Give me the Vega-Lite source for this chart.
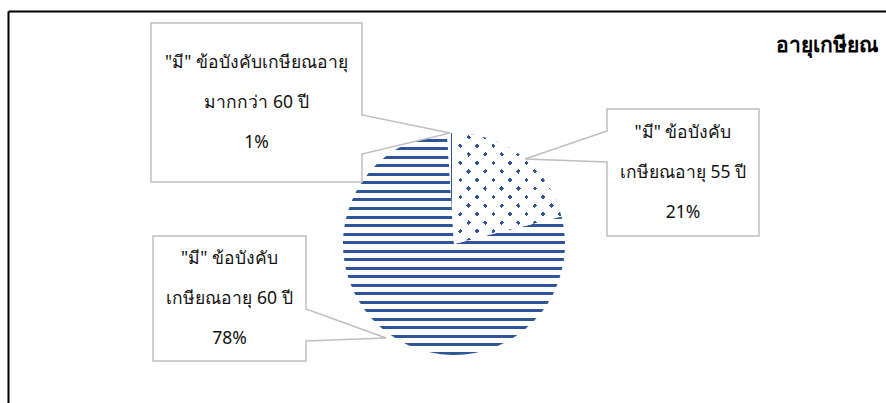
{
  "$schema": "https://vega.github.io/schema/vega-lite/v6.json",
  "width": 878,
  "height": 392,
  "autosize": {"type": "none"},
  "padding": {"left": 8, "top": 11, "right": 0, "bottom": 0},
  "background": "white",
  "config": {"view": {"stroke": null}},
  "data": {
    "values": [
      {"slice": "55", "value": 21, "seq": 1, "label": ["\"มี\" ข้อบังคับ", "เกษียณอายุ 55 ปี", "21%"], "ax": 683, "ay": 172.5},
      {"slice": "60", "value": 78, "seq": 2, "label": ["\"มี\" ข้อบังคับ", "เกษียณอายุ 60 ปี", "78%"], "ax": 229.5, "ay": 298.5},
      {"slice": "60+", "value": 1, "seq": 3, "label": ["\"มี\" ข้อบังคับเกษียณอายุ", "มากกว่า 60 ปี", "1%"], "ax": 256.5, "ay": 102.5}
    ]
  },
  "transform": [
    {"stack": "value", "groupby": [], "sort": [{"field": "seq", "order": "ascending"}], "as": ["v0", "v1"]}
  ],
  "layer": [
    {
      "transform": [{"filter": "datum.seq === 2"}],
      "mark": {
        "type": "arc", "outerRadius": 111, "xOffset": 7, "yOffset": 37, "strokeWidth": 0,
        "fill": {"gradient": "linear", "x1": 0, "y1": 0, "x2": 0, "y2": 1, "stops": [
          {"offset": 0, "color": "white"}, {"offset": 0.025, "color": "white"}, {"offset": 0.025, "color": "#2e5597"}, {"offset": 0.0385, "color": "#2e5597"},
          {"offset": 0.0385, "color": "white"}, {"offset": 0.0635, "color": "white"}, {"offset": 0.0635, "color": "#2e5597"}, {"offset": 0.0769, "color": "#2e5597"},
          {"offset": 0.0769, "color": "white"}, {"offset": 0.1019, "color": "white"}, {"offset": 0.1019, "color": "#2e5597"}, {"offset": 0.1154, "color": "#2e5597"},
          {"offset": 0.1154, "color": "white"}, {"offset": 0.1404, "color": "white"}, {"offset": 0.1404, "color": "#2e5597"}, {"offset": 0.1538, "color": "#2e5597"},
          {"offset": 0.1538, "color": "white"}, {"offset": 0.1788, "color": "white"}, {"offset": 0.1788, "color": "#2e5597"}, {"offset": 0.1923, "color": "#2e5597"},
          {"offset": 0.1923, "color": "white"}, {"offset": 0.2173, "color": "white"}, {"offset": 0.2173, "color": "#2e5597"}, {"offset": 0.2308, "color": "#2e5597"},
          {"offset": 0.2308, "color": "white"}, {"offset": 0.2558, "color": "white"}, {"offset": 0.2558, "color": "#2e5597"}, {"offset": 0.2692, "color": "#2e5597"},
          {"offset": 0.2692, "color": "white"}, {"offset": 0.2942, "color": "white"}, {"offset": 0.2942, "color": "#2e5597"}, {"offset": 0.3077, "color": "#2e5597"},
          {"offset": 0.3077, "color": "white"}, {"offset": 0.3327, "color": "white"}, {"offset": 0.3327, "color": "#2e5597"}, {"offset": 0.3462, "color": "#2e5597"},
          {"offset": 0.3462, "color": "white"}, {"offset": 0.3712, "color": "white"}, {"offset": 0.3712, "color": "#2e5597"}, {"offset": 0.3846, "color": "#2e5597"},
          {"offset": 0.3846, "color": "white"}, {"offset": 0.4096, "color": "white"}, {"offset": 0.4096, "color": "#2e5597"}, {"offset": 0.4231, "color": "#2e5597"},
          {"offset": 0.4231, "color": "white"}, {"offset": 0.4481, "color": "white"}, {"offset": 0.4481, "color": "#2e5597"}, {"offset": 0.4615, "color": "#2e5597"},
          {"offset": 0.4615, "color": "white"}, {"offset": 0.4865, "color": "white"}, {"offset": 0.4865, "color": "#2e5597"}, {"offset": 0.5, "color": "#2e5597"},
          {"offset": 0.5, "color": "white"}, {"offset": 0.525, "color": "white"}, {"offset": 0.525, "color": "#2e5597"}, {"offset": 0.5385, "color": "#2e5597"},
          {"offset": 0.5385, "color": "white"}, {"offset": 0.5635, "color": "white"}, {"offset": 0.5635, "color": "#2e5597"}, {"offset": 0.5769, "color": "#2e5597"},
          {"offset": 0.5769, "color": "white"}, {"offset": 0.6019, "color": "white"}, {"offset": 0.6019, "color": "#2e5597"}, {"offset": 0.6154, "color": "#2e5597"},
          {"offset": 0.6154, "color": "white"}, {"offset": 0.6404, "color": "white"}, {"offset": 0.6404, "color": "#2e5597"}, {"offset": 0.6538, "color": "#2e5597"},
          {"offset": 0.6538, "color": "white"}, {"offset": 0.6788, "color": "white"}, {"offset": 0.6788, "color": "#2e5597"}, {"offset": 0.6923, "color": "#2e5597"},
          {"offset": 0.6923, "color": "white"}, {"offset": 0.7173, "color": "white"}, {"offset": 0.7173, "color": "#2e5597"}, {"offset": 0.7308, "color": "#2e5597"},
          {"offset": 0.7308, "color": "white"}, {"offset": 0.7558, "color": "white"}, {"offset": 0.7558, "color": "#2e5597"}, {"offset": 0.7692, "color": "#2e5597"},
          {"offset": 0.7692, "color": "white"}, {"offset": 0.7942, "color": "white"}, {"offset": 0.7942, "color": "#2e5597"}, {"offset": 0.8077, "color": "#2e5597"},
          {"offset": 0.8077, "color": "white"}, {"offset": 0.8327, "color": "white"}, {"offset": 0.8327, "color": "#2e5597"}, {"offset": 0.8462, "color": "#2e5597"},
          {"offset": 0.8462, "color": "white"}, {"offset": 0.8712, "color": "white"}, {"offset": 0.8712, "color": "#2e5597"}, {"offset": 0.8846, "color": "#2e5597"},
          {"offset": 0.8846, "color": "white"}, {"offset": 0.9096, "color": "white"}, {"offset": 0.9096, "color": "#2e5597"}, {"offset": 0.9231, "color": "#2e5597"},
          {"offset": 0.9231, "color": "white"}, {"offset": 0.9481, "color": "white"}, {"offset": 0.9481, "color": "#2e5597"}, {"offset": 0.9615, "color": "#2e5597"},
          {"offset": 0.9615, "color": "white"}, {"offset": 0.9865, "color": "white"}, {"offset": 0.9865, "color": "#2e5597"}, {"offset": 1, "color": "#2e5597"}
        ]}
      },
      "encoding": {
        "theta": {"field": "v0", "type": "quantitative", "scale": {"domain": [0, 100]}},
        "theta2": {"field": "v1"}
      }
    },
    {
      "transform": [{"filter": "datum.seq === 1"}],
      "mark": {
        "type": "arc", "outerRadius": 111, "xOffset": 7, "yOffset": 37, "strokeWidth": 0,
        "fill": {"gradient": "linear", "x1": 0, "y1": 0, "x2": 1, "y2": 1, "stops": [
          {"offset": 0, "color": "#2e5597"}, {"offset": 0.021, "color": "#2e5597"}, {"offset": 0.021, "color": "white"}, {"offset": 0.0769, "color": "white"},
          {"offset": 0.0769, "color": "#2e5597"}, {"offset": 0.0979, "color": "#2e5597"}, {"offset": 0.0979, "color": "white"}, {"offset": 0.1538, "color": "white"},
          {"offset": 0.1538, "color": "#2e5597"}, {"offset": 0.1748, "color": "#2e5597"}, {"offset": 0.1748, "color": "white"}, {"offset": 0.2308, "color": "white"},
          {"offset": 0.2308, "color": "#2e5597"}, {"offset": 0.2518, "color": "#2e5597"}, {"offset": 0.2518, "color": "white"}, {"offset": 0.3077, "color": "white"},
          {"offset": 0.3077, "color": "#2e5597"}, {"offset": 0.3287, "color": "#2e5597"}, {"offset": 0.3287, "color": "white"}, {"offset": 0.3846, "color": "white"},
          {"offset": 0.3846, "color": "#2e5597"}, {"offset": 0.4056, "color": "#2e5597"}, {"offset": 0.4056, "color": "white"}, {"offset": 0.4615, "color": "white"},
          {"offset": 0.4615, "color": "#2e5597"}, {"offset": 0.4825, "color": "#2e5597"}, {"offset": 0.4825, "color": "white"}, {"offset": 0.5385, "color": "white"},
          {"offset": 0.5385, "color": "#2e5597"}, {"offset": 0.5595, "color": "#2e5597"}, {"offset": 0.5595, "color": "white"}, {"offset": 0.6154, "color": "white"},
          {"offset": 0.6154, "color": "#2e5597"}, {"offset": 0.6364, "color": "#2e5597"}, {"offset": 0.6364, "color": "white"}, {"offset": 0.6923, "color": "white"},
          {"offset": 0.6923, "color": "#2e5597"}, {"offset": 0.7133, "color": "#2e5597"}, {"offset": 0.7133, "color": "white"}, {"offset": 0.7692, "color": "white"},
          {"offset": 0.7692, "color": "#2e5597"}, {"offset": 0.7902, "color": "#2e5597"}, {"offset": 0.7902, "color": "white"}, {"offset": 0.8462, "color": "white"},
          {"offset": 0.8462, "color": "#2e5597"}, {"offset": 0.8672, "color": "#2e5597"}, {"offset": 0.8672, "color": "white"}, {"offset": 0.9231, "color": "white"},
          {"offset": 0.9231, "color": "#2e5597"}, {"offset": 0.9441, "color": "#2e5597"}, {"offset": 0.9441, "color": "white"}, {"offset": 1, "color": "white"}
        ]}
      },
      "encoding": {
        "theta": {"field": "v0", "type": "quantitative", "scale": {"domain": [0, 100]}},
        "theta2": {"field": "v1"}
      }
    },
    {
      "transform": [{"filter": "datum.seq === 1"}],
      "mark": {
        "type": "arc", "outerRadius": 111, "xOffset": 7, "yOffset": 37, "strokeWidth": 0,
        "fill": {"gradient": "linear", "x1": 0, "y1": 1, "x2": 1, "y2": 0, "stops": [
          {"offset": 0, "color": "rgba(255,255,255,0)"}, {"offset": 0.021, "color": "rgba(255,255,255,0)"}, {"offset": 0.021, "color": "white"}, {"offset": 0.0769, "color": "white"},
          {"offset": 0.0769, "color": "rgba(255,255,255,0)"}, {"offset": 0.0979, "color": "rgba(255,255,255,0)"}, {"offset": 0.0979, "color": "white"}, {"offset": 0.1538, "color": "white"},
          {"offset": 0.1538, "color": "rgba(255,255,255,0)"}, {"offset": 0.1748, "color": "rgba(255,255,255,0)"}, {"offset": 0.1748, "color": "white"}, {"offset": 0.2308, "color": "white"},
          {"offset": 0.2308, "color": "rgba(255,255,255,0)"}, {"offset": 0.2518, "color": "rgba(255,255,255,0)"}, {"offset": 0.2518, "color": "white"}, {"offset": 0.3077, "color": "white"},
          {"offset": 0.3077, "color": "rgba(255,255,255,0)"}, {"offset": 0.3287, "color": "rgba(255,255,255,0)"}, {"offset": 0.3287, "color": "white"}, {"offset": 0.3846, "color": "white"},
          {"offset": 0.3846, "color": "rgba(255,255,255,0)"}, {"offset": 0.4056, "color": "rgba(255,255,255,0)"}, {"offset": 0.4056, "color": "white"}, {"offset": 0.4615, "color": "white"},
          {"offset": 0.4615, "color": "rgba(255,255,255,0)"}, {"offset": 0.4825, "color": "rgba(255,255,255,0)"}, {"offset": 0.4825, "color": "white"}, {"offset": 0.5385, "color": "white"},
          {"offset": 0.5385, "color": "rgba(255,255,255,0)"}, {"offset": 0.5595, "color": "rgba(255,255,255,0)"}, {"offset": 0.5595, "color": "white"}, {"offset": 0.6154, "color": "white"},
          {"offset": 0.6154, "color": "rgba(255,255,255,0)"}, {"offset": 0.6364, "color": "rgba(255,255,255,0)"}, {"offset": 0.6364, "color": "white"}, {"offset": 0.6923, "color": "white"},
          {"offset": 0.6923, "color": "rgba(255,255,255,0)"}, {"offset": 0.7133, "color": "rgba(255,255,255,0)"}, {"offset": 0.7133, "color": "white"}, {"offset": 0.7692, "color": "white"},
          {"offset": 0.7692, "color": "rgba(255,255,255,0)"}, {"offset": 0.7902, "color": "rgba(255,255,255,0)"}, {"offset": 0.7902, "color": "white"}, {"offset": 0.8462, "color": "white"},
          {"offset": 0.8462, "color": "rgba(255,255,255,0)"}, {"offset": 0.8672, "color": "rgba(255,255,255,0)"}, {"offset": 0.8672, "color": "white"}, {"offset": 0.9231, "color": "white"},
          {"offset": 0.9231, "color": "rgba(255,255,255,0)"}, {"offset": 0.9441, "color": "rgba(255,255,255,0)"}, {"offset": 0.9441, "color": "white"}, {"offset": 1, "color": "white"}
        ]}
      },
      "encoding": {
        "theta": {"field": "v0", "type": "quantitative", "scale": {"domain": [0, 100]}},
        "theta2": {"field": "v1"}
      }
    },
    {
      "transform": [{"filter": "datum.seq === 3"}],
      "mark": {
        "type": "arc", "outerRadius": 111, "xOffset": 7, "yOffset": 37, "strokeWidth": 0,
        "fill": {"gradient": "linear", "x1": 0, "y1": 0, "x2": 1, "y2": 0, "stops": [
          {"offset": 0, "color": "white"}, {"offset": 0.5, "color": "white"}, {"offset": 0.5, "color": "#2e5597"},
          {"offset": 0.75, "color": "#2e5597"}, {"offset": 0.75, "color": "white"}, {"offset": 1, "color": "white"}
        ]}
      },
      "encoding": {
        "theta": {"field": "v0", "type": "quantitative", "scale": {"domain": [0, 100]}},
        "theta2": {"field": "v1"}
      }
    },
    {
      "mark": {"type": "point", "filled": true, "fill": "white", "fillOpacity": 1, "stroke": "#bfbfbf", "strokeOpacity": 1, "strokeWidth": 1.5, "size": 4},
      "encoding": {
        "x": {"field": "ax", "type": "quantitative", "scale": {"domain": [8, 886], "nice": false, "zero": false},
              "axis": {"orient": "top", "domain": true, "domainColor": "#000000", "domainWidth": 2, "ticks": false, "labels": false, "grid": false, "title": null}},
        "y": {"field": "ay", "type": "quantitative", "scale": {"domain": [11, 403], "nice": false, "zero": false, "reverse": true},
              "axis": {"orient": "left", "domain": true, "domainColor": "#000000", "domainWidth": 2, "ticks": false, "labels": false, "grid": false, "title": null}},
        "shape": {"field": "slice", "type": "nominal", "legend": null,
                  "scale": {"domain": ["55", "60", "60+"], "range": [
                    "M-76,-63.5L76,-63.5L76,63.5L-76,63.5L-76,-10.5L-158,-13.5L-76,-41.5Z",
                    "M-76.5,-62.5L76.5,-62.5L76.5,10.5L156.5,39.5L76.5,42.5L76.5,62.5L-76.5,62.5Z",
                    "M-105.5,-79.5L105.5,-79.5L105.5,12.5L193.5,30.5L105.5,51.5L105.5,79.5L-105.5,79.5Z"
                  ]}}
      }
    },
    {
      "mark": {"type": "text", "align": "center", "baseline": "middle", "lineHeight": 40, "dy": -40, "fontSize": 17.5, "font": "Noto Sans", "color": "#111111"},
      "encoding": {
        "x": {"field": "ax", "type": "quantitative"},
        "y": {"field": "ay", "type": "quantitative"},
        "text": {"field": "label"}
      }
    },
    {
      "data": {"values": [{"title": "อายุเกษียณ", "tx": 776, "ty": 46}]},
      "mark": {"type": "text", "align": "left", "baseline": "middle", "fontSize": 21, "fontWeight": "bold", "font": "Noto Sans", "color": "#000000"},
      "encoding": {
        "x": {"field": "tx", "type": "quantitative"},
        "y": {"field": "ty", "type": "quantitative"},
        "text": {"field": "title"}
      }
    }
  ]
}
